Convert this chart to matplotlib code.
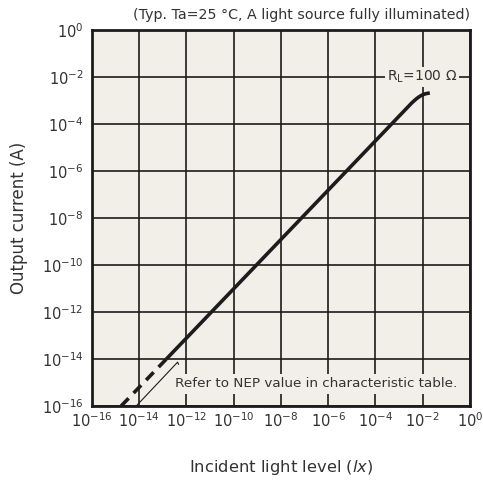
import matplotlib.pyplot as plt
import numpy as np

# curve (lx, A)
dash_x = [1.7e-15, 1.4e-13]
dash_y = [1.0e-16, 1.0e-14]
solid_x = [1.4e-13, 3.4e-3, 5.2e-3, 6.8e-3, 9.3e-3, 1.23e-2, 1.6e-2, 2.0e-2]
solid_y = [1.0e-14, 7.8e-4, 1.15e-3, 1.41e-3, 1.7e-3, 1.9e-3, 2.02e-3, 2.1e-3]

# leader line from the NEP note down to the axis
lead_x = [8.1e-15, 4.2e-13, 4.6e-13]
lead_y = [1.1e-16, 7.4e-15, 6.0e-15]

ticks = [10.0 ** k for k in range(-16, 1, 2)]

bg = "#f2efe8"
ink = "#1c1c1c"

plt.rcParams["font.family"] = ["DejaVu Sans"]

fig = plt.figure(figsize=(4.83, 4.80), dpi=100)
ax = fig.add_axes([0.1905, 0.154, 0.7825, 0.7835])
ax.set_facecolor(bg)

ax.set_xscale("log")
ax.set_yscale("log")
ax.set_xlim(1e-16, 1e0)
ax.set_ylim(1e-16, 1e0)
ax.set_xticks(ticks)
ax.set_yticks(ticks)
ax.minorticks_off()
ax.tick_params(length=0, labelsize=10.5, colors="#333333")
ax.tick_params(axis="y", pad=6)
ax.tick_params(axis="x", pad=4)
ax.grid(True, color=ink, linewidth=1.2)
ax.set_axisbelow(True)
for s in ax.spines.values():
    s.set_linewidth(2.0)
    s.set_color(ink)

ax.plot(dash_x, dash_y, color=ink, linewidth=2.6, dashes=(3.0, 2.0))
ax.plot(solid_x, solid_y, color=ink, linewidth=2.6,
        solid_capstyle="butt", solid_joinstyle="round")
ax.plot(lead_x, lead_y, color=ink, linewidth=0.8)

ax.text(3.4e-13, 8.7e-16, "Refer to NEP value in characteristic table.",
        fontsize=9.7, color="#333333", ha="left", va="center",
        bbox=dict(facecolor=bg, edgecolor="none", pad=2.5))
ax.text(3.0e-4, 1e-2, r"R$_{\mathregular{L}}$=100 Ω", fontsize=10,
        color="#333333", ha="left", va="center",
        bbox=dict(facecolor=bg, edgecolor="none", pad=1.5))

ax.set_xlabel(r"Incident light level ($\mathit{lx}$)", fontsize=11.8,
              color="#333333", labelpad=20)
ax.set_ylabel("Output current (A)", fontsize=12, color="#333333", labelpad=10)

fig.text(470 / 483, 1 - 15 / 480,
         "(Typ. Ta=25 °C, A light source fully illuminated)",
         fontsize=10.3, color="#333333", ha="right", va="center")

fig.savefig("out.png", dpi=100, facecolor="white")
